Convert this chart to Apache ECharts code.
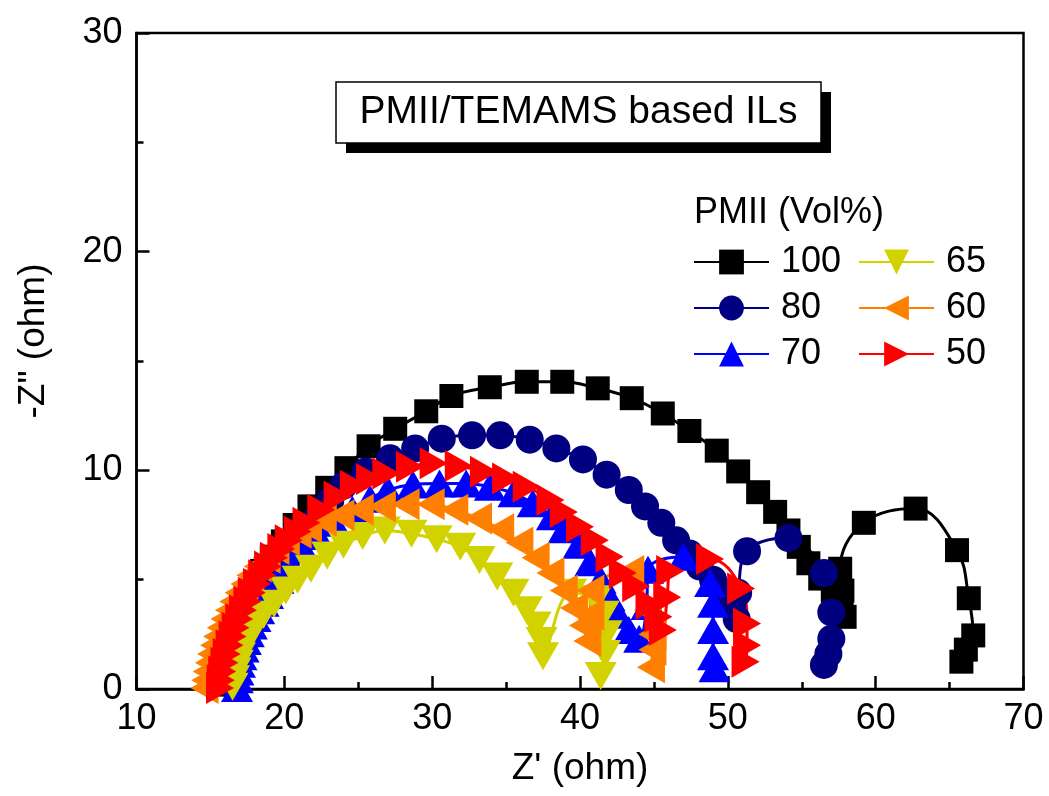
<!DOCTYPE html>
<html><head><meta charset="utf-8">
<script src="https://cdn.jsdelivr.net/npm/echarts@6/dist/echarts.min.js"></script>
<style>html,body{margin:0;padding:0;background:#fff}#c{width:1049px;height:796px}</style>
</head><body><div id="c"></div>
<script>
// ---- data (Z' , -Z'') in ohm ----
const seriesNames = ['100', '80', '70', '65', '60', '50'];
const xTicks = [10, 20, 30, 40, 50, 60, 70];
const yTicks = [0, 10, 20, 30];

const s100 = [[16.4,0.2],[16.45,0.7],[16.5,1.2],[16.6,1.6],[16.65,1.9],[16.75,2.3],[16.85,2.6],[17.0,3.0],[17.1,3.3],[17.3,3.7],[17.45,4.0],[17.7,4.4],[17.9,4.7],[18.5,5.4],[19.15,6.05],[19.9,6.75],[20.7,7.5],[21.7,8.35],[22.9,9.2],[24.2,10.1],[25.7,11.1],[27.5,11.9],[29.6,12.7],[31.3,13.4],[33.9,13.8],[36.4,14.05],[38.8,14.05],[41.2,13.75],[43.5,13.3],[45.6,12.6],[47.4,11.8],[49.25,10.9],[50.7,9.95],[52.05,9.0],[53.2,8.1],[54.1,7.25],[54.8,6.5],[55.45,5.75],[56.25,5.05],[57.1,4.5],[57.7,3.9],[57.9,3.3],[57.75,4.5],[57.6,5.5],[59.2,7.6],[62.7,8.25],[65.5,6.35],[66.3,4.15],[66.6,2.45],[66.1,1.8],[65.8,1.25]];

const s80 = [[16.6,0.1],[16.7,0.5],[16.8,0.9],[16.95,1.3],[17.1,1.7],[17.3,2.1],[17.5,2.5],[17.75,2.9],[18.0,3.3],[18.3,3.7],[18.6,4.1],[19.3,4.9],[20.1,5.7],[21.1,6.7],[22.1,7.7],[23.1,8.6],[24.0,9.3],[25.5,9.95],[27.15,10.55],[28.85,11.0],[30.65,11.45],[32.7,11.6],[34.6,11.6],[36.6,11.4],[38.4,11.0],[40.2,10.5],[41.8,9.8],[43.3,9.1],[44.4,8.35],[45.5,7.6],[46.5,6.8],[47.4,6.2],[48.1,5.6],[49.0,5.0],[49.8,4.4],[50.3,3.8],[50.6,3.2],[50.7,4.4],[51.3,6.3],[54.1,6.9],[56.5,5.3],[57.0,3.5],[57.0,2.3],[56.8,1.6],[56.5,1.1]];

const s70 = [[16.8,0.05],[16.85,0.45],[16.9,0.8],[17.0,1.15],[17.1,1.5],[17.25,1.85],[17.4,2.2],[17.6,2.55],[17.8,2.9],[18.05,3.25],[18.3,3.6],[18.6,3.95],[18.9,4.3],[19.6,5.0],[20.4,5.7],[21.3,6.4],[22.3,7.0],[23.4,7.6],[24.6,8.2],[25.8,8.7],[27.0,9.1],[28.7,9.35],[30.5,9.4],[32.3,9.4],[33.9,9.25],[35.5,8.95],[36.8,8.5],[38.1,7.9],[38.9,7.3],[39.9,6.6],[40.7,5.8],[41.4,5.0],[42.0,4.2],[42.6,3.4],[43.3,2.7],[44.0,2.3],[44.5,3.8],[44.6,5.45],[47.0,6.05],[48.8,4.85],[49.0,3.9],[49.0,2.7],[49.0,1.5],[49.1,0.95]];

const s65 = [[16.5,0.1],[16.6,0.45],[16.7,0.8],[16.85,1.15],[17.0,1.5],[17.2,1.85],[17.4,2.2],[17.65,2.5],[17.9,2.8],[18.25,3.1],[18.6,3.4],[19.3,3.9],[20.1,4.5],[20.9,5.0],[21.8,5.5],[22.9,6.1],[24.0,6.6],[25.3,7.0],[26.8,7.25],[28.6,7.1],[30.3,6.85],[31.9,6.5],[33.2,5.9],[34.4,5.15],[35.5,4.4],[36.4,3.6],[37.0,2.9],[37.4,2.2],[37.5,1.5],[39.4,4.4],[41.1,4.1],[41.6,3.4],[41.8,2.5],[41.7,1.6],[41.4,0.6]];

const s60 = [[14.6,0.05],[14.65,0.4],[14.75,0.8],[14.9,1.2],[15.05,1.6],[15.25,2.0],[15.45,2.4],[15.7,2.8],[15.95,3.2],[16.25,3.6],[16.55,4.0],[16.9,4.4],[17.3,4.8],[17.7,5.2],[18.2,5.6],[18.8,6.0],[19.4,6.4],[20.1,6.8],[20.9,7.15],[21.6,7.4],[22.6,7.7],[23.8,7.95],[25.1,8.2],[26.6,8.35],[28.2,8.45],[29.9,8.45],[31.5,8.2],[33.1,7.8],[34.6,7.3],[35.9,6.7],[37.0,6.0],[38.0,5.3],[38.9,4.5],[39.6,3.7],[40.2,2.9],[40.5,2.2],[40.7,3.4],[40.7,4.5],[43.4,5.4],[44.6,3.6],[44.9,2.5],[44.9,1.8],[44.8,1.0]];

const s50 = [[15.65,0.05],[15.7,0.4],[15.8,0.8],[15.95,1.2],[16.1,1.6],[16.3,2.0],[16.5,2.4],[16.7,2.8],[16.95,3.2],[17.2,3.6],[17.5,4.0],[17.8,4.4],[18.15,4.8],[18.5,5.2],[18.9,5.6],[19.3,6.0],[19.8,6.4],[20.3,6.8],[20.9,7.2],[21.5,7.6],[22.5,8.2],[23.6,8.8],[24.7,9.3],[25.8,9.6],[26.9,9.86],[28.5,10.16],[30.1,10.32],[31.8,10.2],[33.5,9.94],[35.0,9.63],[36.4,9.25],[38.0,8.64],[38.9,8.1],[40.0,7.42],[41.0,6.8],[42.0,6.05],[42.9,5.3],[43.8,4.7],[44.7,3.9],[45.3,3.3],[45.6,2.7],[45.9,4.2],[46.1,5.4],[48.8,5.95],[50.9,4.6],[51.3,3.0],[51.3,2.0],[51.2,1.25]];

const seriesData = [s100, s80, s70, s65, s60, s50];
const colors = ['#000000', '#000080', '#0000FF', '#D2D200', '#FF8000', '#FF0000'];
const symbols = ['rect', 'circle', 'triangle',
  'path://M0,0 L10,0 L5,10 Z',
  'path://M10,0 L0,5 L10,10 Z',
  'path://M0,0 L10,5 L0,10 Z'];
const symbolSizes = [24, 28, [32, 28], [32, 28], [28, 32], [28, 32]];

const FONT = '"Liberation Sans", Arial, sans-serif';

const chart = echarts.init(document.getElementById('c'), null, {renderer: 'canvas'});

const series = seriesNames.map((n, i) => ({
  name: n,
  type: 'line',
  data: seriesData[i],
  smooth: 0.4,
  symbol: symbols[i],
  symbolSize: symbolSizes[i],
  showSymbol: true,
  color: colors[i],
  itemStyle: {color: colors[i]},
  lineStyle: {color: colors[i], width: 3},
  clip: false,
  animation: false
}));

const legendCommon = {
  orient: 'vertical',
  itemWidth: 75,
  itemHeight: 31,
  itemGap: 0,
  padding: 0,
  selectedMode: false,
  textStyle: {fontSize: 36, fontFamily: FONT, color: '#000', lineHeight: 46, padding: [0, 0, 0, 7]}
};

const option = {
  animation: false,
  backgroundColor: '#fff',
  grid: {left: 136.5, right: 25.5, top: 33, bottom: 107, show: true, borderColor: '#000', borderWidth: 2.5, backgroundColor: 'transparent'},
  xAxis: {
    type: 'value', min: xTicks[0], max: xTicks[xTicks.length - 1], interval: 10,
    name: "Z' (ohm)", nameLocation: 'middle', nameGap: 61,
    nameTextStyle: {fontSize: 37, fontFamily: FONT, color: '#000'},
    axisLine: {show: true, lineStyle: {color: '#000', width: 2.5}},
    axisTick: {show: true, inside: true, length: 13, lineStyle: {color: '#000', width: 2.5}},
    minorTick: {show: true, splitNumber: 2, length: 7, lineStyle: {color: '#000', width: 2.5}},
    axisLabel: {fontSize: 36, fontFamily: FONT, color: '#000', margin: 12},
    splitLine: {show: false}
  },
  yAxis: {
    type: 'value', min: yTicks[0], max: yTicks[yTicks.length - 1], interval: 10,
    name: '-Z" (ohm)', nameLocation: 'middle', nameGap: 84,
    nameTextStyle: {fontSize: 37, fontFamily: FONT, color: '#000', padding: [0, 0, 0, 40]},
    axisLine: {show: true, lineStyle: {color: '#000', width: 2.5}},
    axisTick: {show: true, inside: true, length: 13, lineStyle: {color: '#000', width: 2.5}},
    minorTick: {show: true, splitNumber: 2, length: 7, lineStyle: {color: '#000', width: 2.5}},
    axisLabel: {fontSize: 36, fontFamily: FONT, color: '#000', margin: 14},
    splitLine: {show: false}
  },
  legend: [
    Object.assign({}, legendCommon, {data: seriesNames.slice(0, 3), left: 693, top: 239}),
    Object.assign({}, legendCommon, {data: seriesNames.slice(3, 6), left: 858, top: 239})
  ],
  graphic: [
    {type: 'rect', z: 100, shape: {x: 346, y: 92, width: 485, height: 61}, style: {fill: '#000'}},
    {type: 'rect', z: 101, shape: {x: 336, y: 82, width: 485, height: 61}, style: {fill: '#fff', stroke: '#000', lineWidth: 1.5}},
    {type: 'text', z: 102, x: 578.5, y: 112, style: {text: 'PMII/TEMAMS based ILs', font: '39px ' + FONT, fill: '#000', align: 'center', verticalAlign: 'middle'}},
    {type: 'text', z: 102, x: 694, y: 213, style: {text: 'PMII (Vol%)', font: '36px ' + FONT, fill: '#000', align: 'left', verticalAlign: 'middle'}}
  ],
  series: series
};
chart.setOption(option);
</script>
</body></html>
